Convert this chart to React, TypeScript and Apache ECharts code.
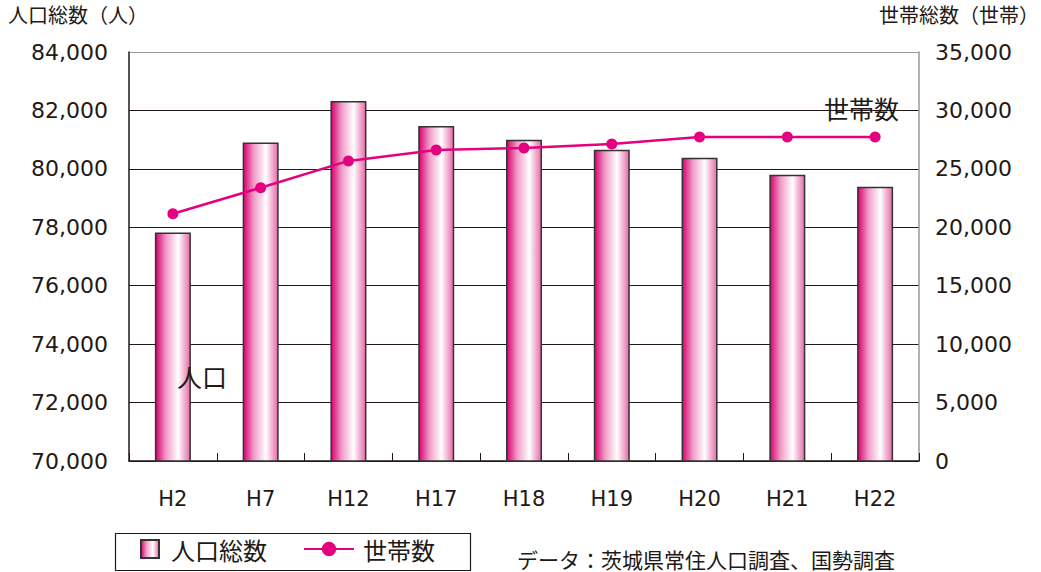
import React, { useEffect, useRef } from "react";
import * as echarts from "echarts";

const categories = ["H2", "H7", "H12", "H17", "H18", "H19", "H20", "H21", "H22"];
const population = [77820, 80900, 82320, 81470, 81000, 80650, 80380, 79800, 79390];
const households = [21160, 23380, 25680, 26620, 26790, 27130, 27730, 27730, 27730];
const leftTicks = { min: 70000, max: 84000, interval: 2000 };
const rightTicks = { min: 0, max: 35000, interval: 5000 };
const popName = "人口総数";
const hhName = "世帯数";

const FONT = "'DejaVu Sans', 'Noto Sans CJK JP', sans-serif";
const JP = "'Noto Sans CJK JP', sans-serif";
const INK = "#231815";
const MAGENTA = "#e4007f";

export default function App() {
  const ref = useRef<HTMLDivElement>(null);
  useEffect(() => {
    if (!ref.current) return;
    const chart = echarts.init(ref.current, null, { renderer: "svg" });
    const barGradient = new echarts.graphic.LinearGradient(0, 0, 1, 0, [
      { offset: 0, color: "#d8006f" },
      { offset: 0.3, color: "#f09ac6" },
      { offset: 0.65, color: "#ffffff" },
      { offset: 1, color: "#e66aa8" },
    ]);
    chart.setOption({
      animation: false,
      grid: { left: 129, right: 122, top: 52, bottom: 111 },
      xAxis: {
        type: "category",
        data: categories,
        axisLine: { lineStyle: { color: INK, width: 1.5 } },
        axisTick: { show: true, inside: true, length: 8, lineStyle: { color: INK } },
        axisLabel: { fontSize: 21, color: INK, fontFamily: FONT, margin: 27 },
      },
      yAxis: [
        {
          type: "value",
          ...leftTicks,
          position: "left",
          axisLine: { show: true, lineStyle: { color: INK, width: 1.5 } },
          axisTick: { show: false },
          splitLine: {
            show: true,
            lineStyle: {
              color: [INK, INK, INK, INK, INK, INK, INK, "#999999"],
              width: 1.2,
            },
          },
          axisLabel: {
            fontSize: 22,
            color: INK,
            fontFamily: FONT,
            margin: 21,
            formatter: (v: number) => v.toLocaleString("en-US"),
          },
        },
        {
          type: "value",
          ...rightTicks,
          position: "right",
          axisLine: { show: true, lineStyle: { color: "#999999", width: 1.5 } },
          axisTick: { show: false },
          splitLine: { show: false },
          axisLabel: {
            fontSize: 22,
            color: INK,
            fontFamily: FONT,
            margin: 16,
            formatter: (v: number) => v.toLocaleString("en-US"),
          },
        },
      ],
      legend: [
        {
          data: [{ name: popName, icon: "rect" }],
          left: 140,
          top: 537,
          itemWidth: 18,
          itemHeight: 18,
          padding: 0,
          textStyle: { fontSize: 24, color: INK, fontFamily: JP, padding: [0, 0, 0, 7] },
        },
        {
          data: [{ name: hhName }],
          left: 303,
          top: 537,
          itemWidth: 50,
          itemHeight: 18,
          padding: 0,
          textStyle: { fontSize: 24, color: INK, fontFamily: JP, padding: [0, 0, 0, 4] },
        },
      ],
      series: [
        {
          name: popName,
          type: "bar",
          yAxisIndex: 0,
          data: population,
          barWidth: 36,
          itemStyle: { color: barGradient, borderColor: "#333333", borderWidth: 1.5 },
        },
        {
          name: hhName,
          type: "line",
          yAxisIndex: 1,
          data: households,
          symbol: "circle",
          symbolSize: 11,
          lineStyle: { color: MAGENTA, width: 2.5 },
          itemStyle: { color: MAGENTA },
        },
      ],
      graphic: [
        {
          type: "text",
          left: 8,
          top: 4,
          style: { text: "人口総数（人）", fontSize: 20, fill: INK, fontFamily: JP },
        },
        {
          type: "text",
          right: 2,
          top: 4,
          style: { text: "世帯総数（世帯）", fontSize: 20, fill: INK, fontFamily: JP },
        },
        {
          type: "text",
          left: 177,
          top: 363,
          z: 100,
          style: { text: "人口", fontSize: 25, fill: INK, fontFamily: JP },
        },
        {
          type: "text",
          left: 824,
          top: 95,
          z: 100,
          style: { text: "世帯数", fontSize: 25, fill: INK, fontFamily: JP },
        },
        {
          type: "rect",
          left: 113,
          top: 531,
          shape: { width: 355, height: 37 },
          style: { fill: "none", stroke: INK, lineWidth: 1.2 },
        },
        {
          type: "text",
          left: 517,
          top: 548,
          style: {
            text: "データ：茨城県常住人口調査、国勢調査",
            fontSize: 21,
            fill: INK,
            fontFamily: JP,
          },
        },
      ],
    });
    return () => chart.dispose();
  }, []);
  return (
    <div
      ref={ref}
      style={{ position: "fixed", left: 0, top: 0, width: 1041, height: 572, background: "#fff" }}
    />
  );
}
